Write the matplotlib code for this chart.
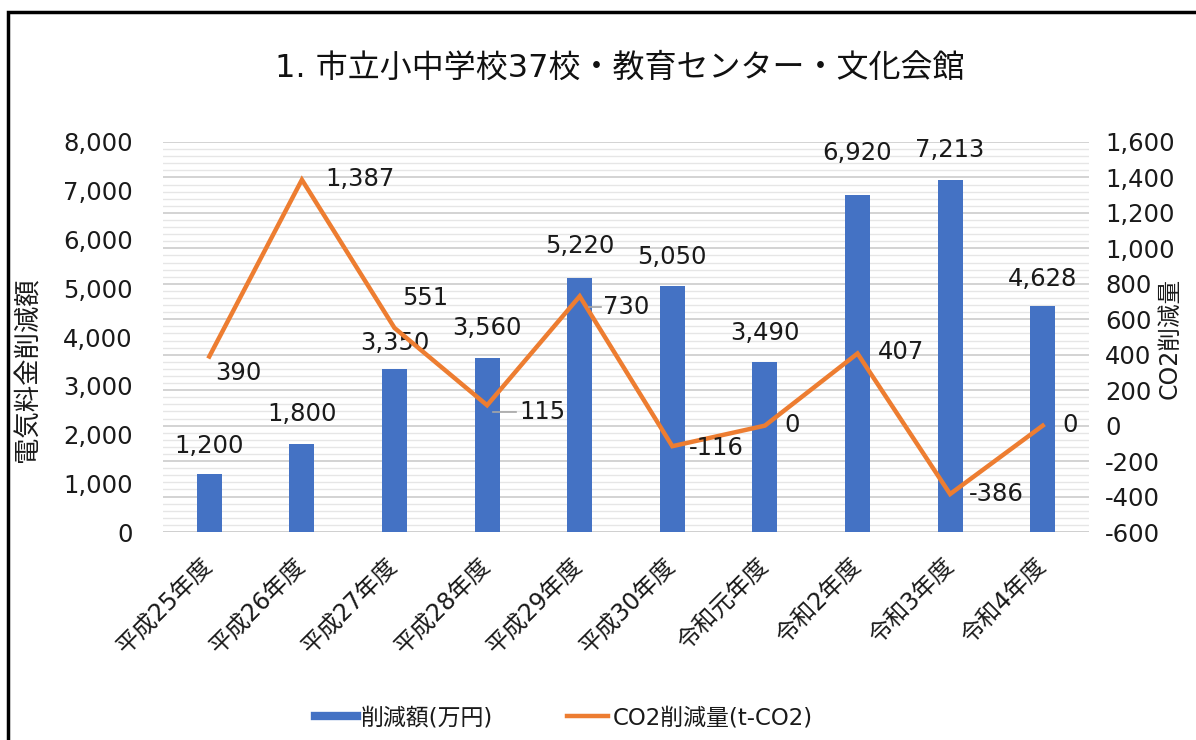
import matplotlib
matplotlib.use("Agg")
import matplotlib.pyplot as plt
from matplotlib.patches import Rectangle
from matplotlib.lines import Line2D
from matplotlib.ticker import FuncFormatter, MultipleLocator
import numpy as np

plt.rcParams['font.family'] = ['DejaVu Sans', 'Noto Sans CJK JP']

categories = ["平成25年度", "平成26年度", "平成27年度", "平成28年度", "平成29年度",
              "平成30年度", "令和元年度", "令和2年度", "令和3年度", "令和4年度"]
savings = [1200, 1800, 3350, 3560, 5220, 5050, 3490, 6920, 7213, 4628]
co2 = [390, 1387, 551, 115, 730, -116, 0, 407, -386, 0]

title = "1. 市立小中学校37校・教育センター・文化会館"
ylabel_left = "電気料金削減額"
ylabel_right = "CO2削減量"
legend_bar = "削減額(万円)"
legend_line = "CO2削減量(t-CO2)"

BLUE = "#4472C4"
ORANGE = "#ED7D31"
TXT = "#1a1a1a"

W, H = 1196, 740
fig = plt.figure(figsize=(W / 100, H / 100), dpi=100)
fig.patch.set_facecolor("white")

left, right, top, bottom = 163, 1089, 142, 532
rect = [left / W, 1 - bottom / H, (right - left) / W, (bottom - top) / H]

ax_grid = fig.add_axes(rect)                       # secondary scale + grid (behind)
ax = fig.add_axes(rect, sharex=ax_grid)            # bars
ax_line = fig.add_axes(rect, sharex=ax_grid, sharey=ax_grid)  # line on top
ax_grid.set_zorder(1)
ax.set_zorder(2)
ax_line.set_zorder(3)
ax.patch.set_visible(False)
ax_line.patch.set_visible(False)

x = np.arange(len(categories))
fmt = FuncFormatter(lambda v, p: f"{int(round(v)):,}")

# grid axis (secondary scale)
ax_grid.set_ylim(-600, 1600)
ax_grid.yaxis.set_major_locator(MultipleLocator(200))
ax_grid.yaxis.set_minor_locator(MultipleLocator(40))
ax_grid.grid(True, which='major', axis='y', color='#d0d0d0', lw=1.3)
ax_grid.grid(True, which='minor', axis='y', color='#e6e6e6', lw=1.0)
ax_grid.yaxis.tick_right()
ax_grid.tick_params(axis='y', which='both', length=0, labelsize=17.5, pad=11.5,
                    labelcolor=TXT)
ax_grid.yaxis.set_major_formatter(fmt)
for s in ax_grid.spines.values():
    s.set_visible(False)
ax_grid.tick_params(axis='x', which='both', length=0, labelbottom=False)

# bars
ax.bar(x, savings, width=0.27, color=BLUE, zorder=2)
ax.set_ylim(0, 8000)
ax.set_xlim(-0.5, len(categories) - 0.5)
ax.yaxis.set_major_locator(MultipleLocator(1000))
ax.yaxis.set_major_formatter(fmt)
ax.tick_params(axis='y', length=0, labelsize=17.5, pad=21.6, labelcolor=TXT)
ax.set_xticks(x)
ax.set_xticklabels(categories, rotation=45, ha='right', va='center',
                   rotation_mode='anchor', fontsize=17, color=TXT)
ax.tick_params(axis='x', length=0, pad=22)
for s in ax.spines.values():
    s.set_visible(False)
ax.axhline(0, color='#d0d0d0', lw=1.3, zorder=1)

bar_label_offsets = [28, 30, 26, 30, 32, 29, 29, 42, 30, 27]
for xi, v, off in zip(x, savings, bar_label_offsets):
    ax.annotate(f"{v:,}", (xi, v), xytext=(0, off), textcoords='offset pixels',
                ha='center', va='center', fontsize=17.5, color=TXT)

# line
ax_line.plot(x, co2, color=ORANGE, lw=3.2, solid_joinstyle='miter', zorder=3)
ax_line.axis('off')

line_label_offsets = [(6, -16), (23, 1), (8, 30), (32, -7), (23, -11),
                      (17, -2), (19, 1), (20, 1), (19, 0), (20, 1)]
for xi, v, (dx, dy) in zip(x, co2, line_label_offsets):
    ax_line.annotate(f"{v:,}", (xi, v), xytext=(dx, dy), textcoords='offset pixels',
                     ha='left', va='center', fontsize=17.5, color=TXT)

# leader lines for the 115 and 730 labels
inv = fig.transFigure.inverted()
for idx, (x0, x1, dy) in {3: (6, 29, -7), 4: (9, 21, -11)}.items():
    px, py = ax_line.transData.transform((x[idx], co2[idx]))
    fx0, fy0 = inv.transform((px + x0, py + dy))
    fx1, fy1 = inv.transform((px + x1, py + dy))
    fig.add_artist(Line2D([fx0, fx1], [fy0, fy1], color='#a6a6a6', lw=1.2, zorder=5))

# axis titles
fig.text(29 / W, 1 - 370 / H, ylabel_left, rotation=90, ha='center', va='center',
         fontsize=19, color=TXT)
fig.text(1170 / W, 1 - 338 / H, ylabel_right, rotation=90, ha='center', va='center',
         fontsize=17, color=TXT)

# title
fig.text(620 / W, 1 - 68 / H, title, ha='center', va='center', fontsize=23, color='#111111')

# legend
handles = [Line2D([0], [0], color=BLUE, lw=6), Line2D([0], [0], color=ORANGE, lw=3.2)]
fig.legend(handles, [legend_bar, legend_line], loc='center',
           bbox_to_anchor=(564 / W, 1 - 718 / H), ncol=2, frameon=False,
           fontsize=16.5, handlelength=1.8, handletextpad=0.2, columnspacing=3.2,
           labelcolor=TXT)

# outer border (left and top visible)
fig.add_artist(Rectangle((8 / W, -0.1), 2, 1 - 12 / H + 0.1, transform=fig.transFigure,
                         fill=False, edgecolor='black', lw=2.5))

fig.savefig("out.png", dpi=100)
